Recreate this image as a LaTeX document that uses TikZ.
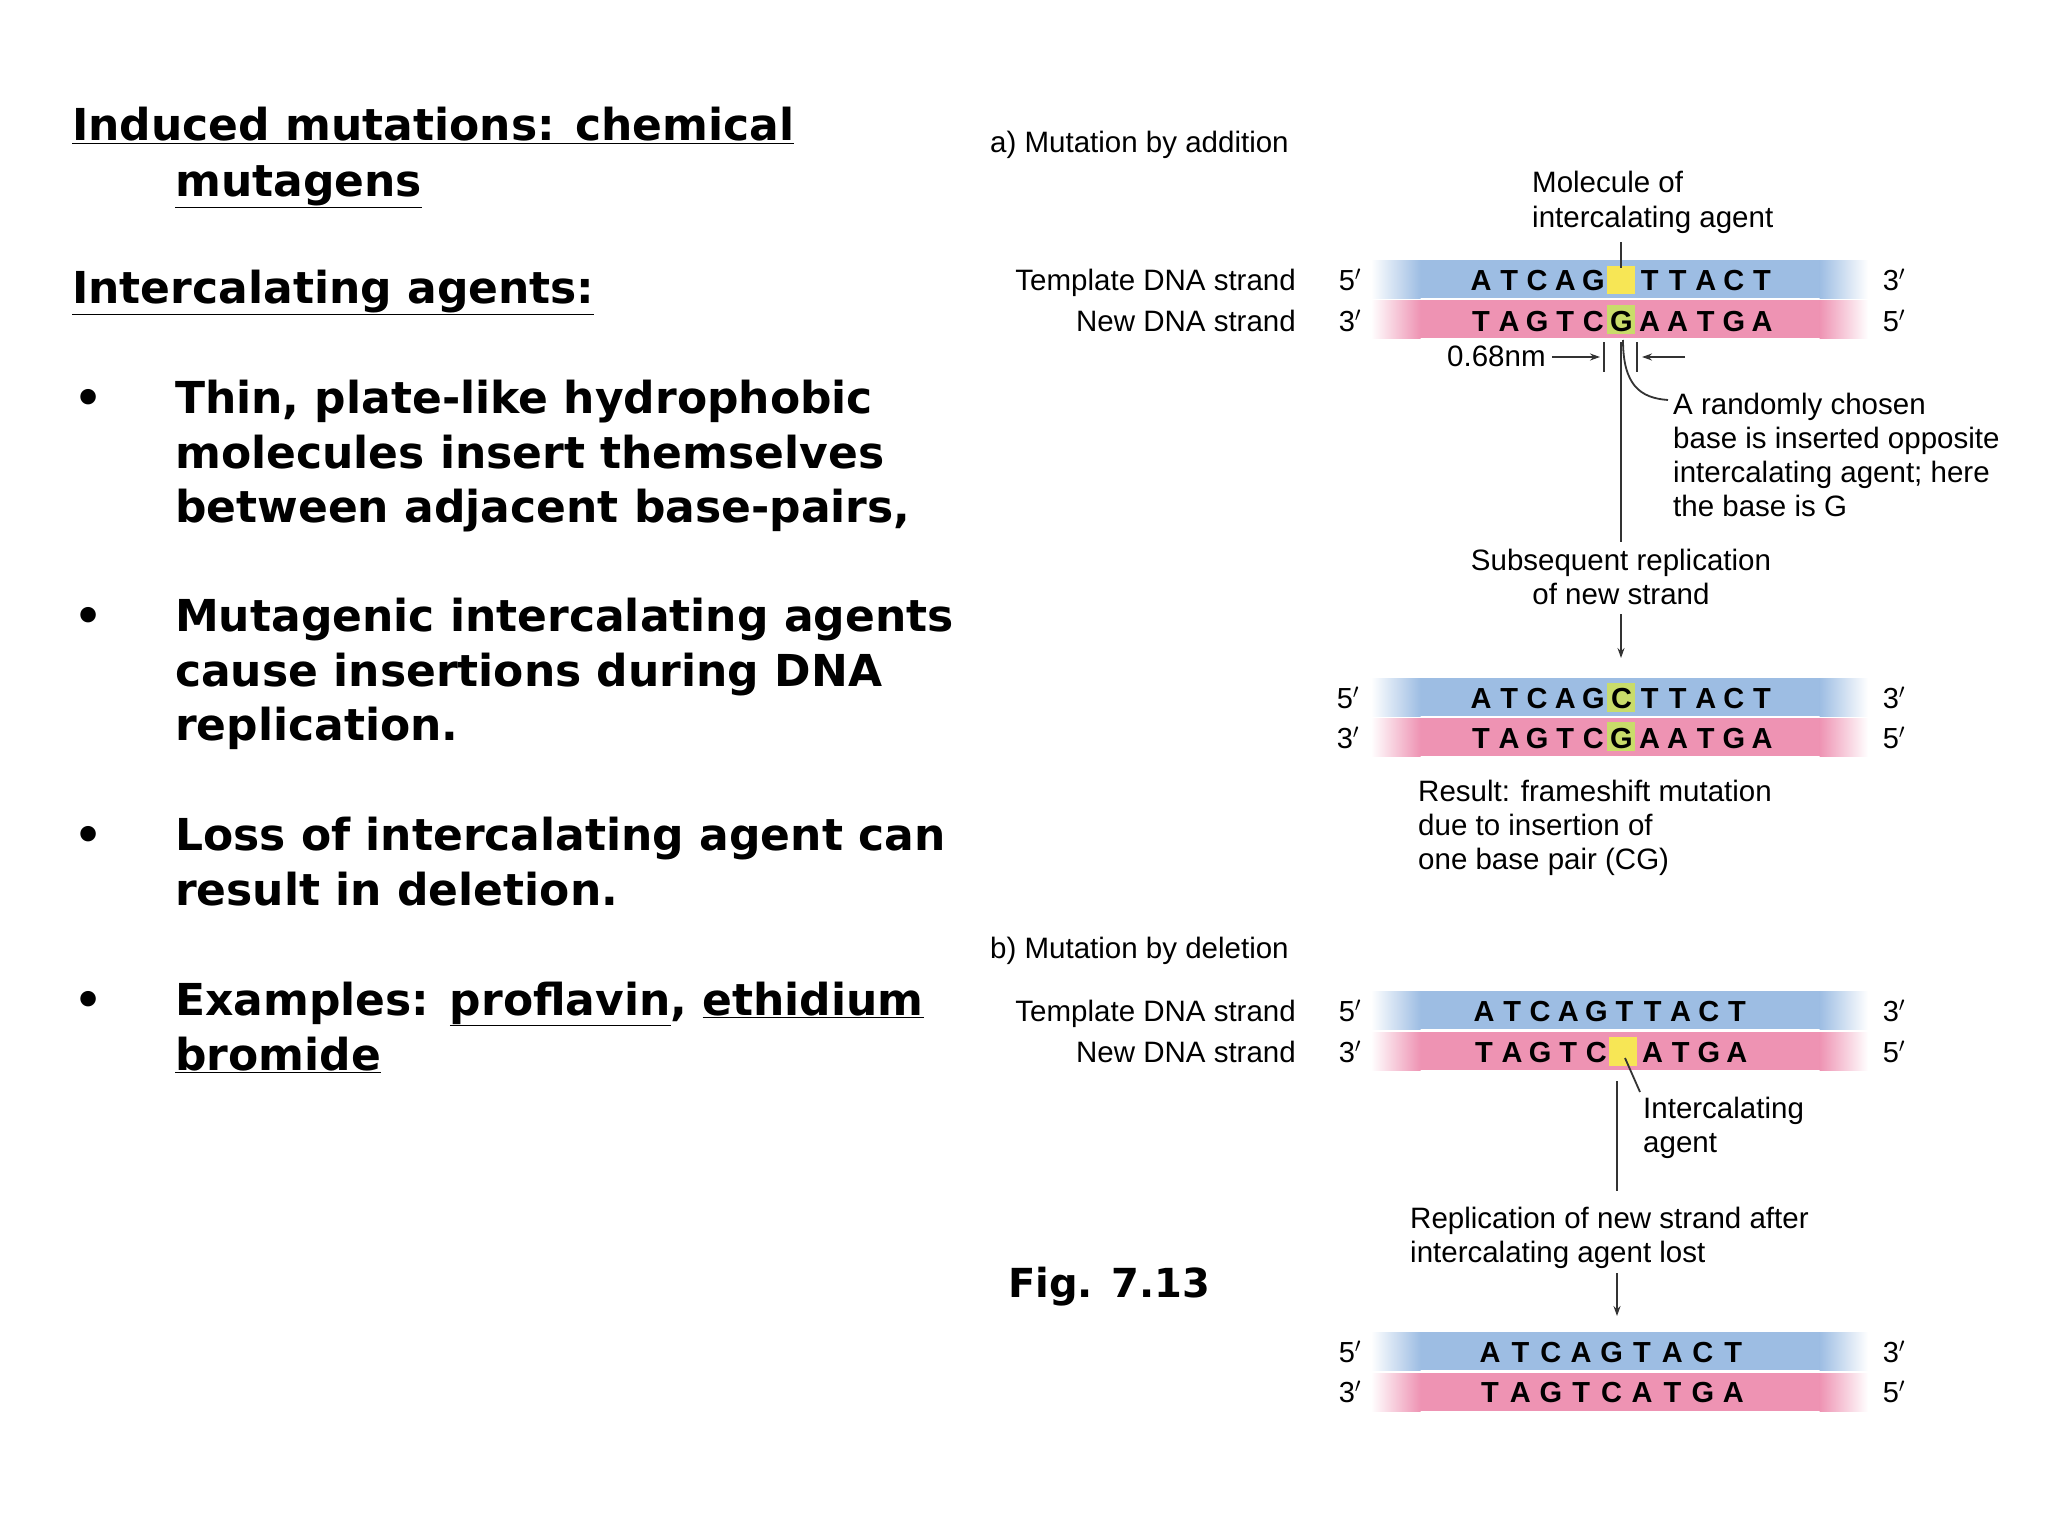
\documentclass[tikz,border=0pt]{standalone}
\usepackage{fontspec}
\setmainfont{DejaVu Sans}
\newfontfamily\hv{Liberation Sans}
\usetikzlibrary{arrows.meta}
\definecolor{sblue}{HTML}{9DBDE3}
\definecolor{sblued}{HTML}{5F88BC}
\definecolor{spink}{HTML}{EE93B3}
\definecolor{spinkd}{HTML}{E06E96}
\definecolor{yel}{HTML}{F7E655}
\definecolor{grn}{HTML}{C9DC6A}
\tikzset{
 big/.style={font=\fontsize{44}{50}\selectfont\bfseries, anchor=base west, inner sep=0},
 lab/.style={font=\hv\fontsize{29.5}{34}\selectfont, anchor=base west, inner sep=0},
 base/.style={font=\hv\fontsize{29}{32}\selectfont\bfseries, anchor=base, inner sep=0},
 prime/.style={font=\hv\fontsize{29}{32}\selectfont, anchor=base, inner sep=0},
 ln/.style={line width=1.8pt, black!80},
 arr/.style={ln, -{Stealth[length=10pt,width=7pt]}}
}
\newcommand{\strand}[4]{% y-top, y-bottom, fill, edge
  \fill[#3] (1420,#1) rectangle (1820,#2);
  \shade[left color=white, right color=#3] (1371,#1) rectangle (1420.5,#2);
  \shade[left color=#3, right color=white] (1819.5,#1) rectangle (1868,#2);
}
\begin{document}
\begin{tikzpicture}[x=1pt,y=-1pt]
\useasboundingbox (0,0) rectangle (2048,1536);
% ---------- left text
\node[big] (t1) at (72,141) {\underline{Induced mutations: chemical}};
\node[big] (t2) at (175,196) {\underline{mutagens}};
\node[big] (t3) at (72,303) {\underline{Intercalating agents:}};
\foreach \y in {413,631,850,1015} \node[big] at (74,\y) {•};
\node[big] (b1a) at (175,413) {Thin, plate-like hydrophobic};
\node[big] (b1b) at (175,468) {molecules insert themselves};
\node[big] (b1c) at (175,522) {between adjacent base-pairs,};
\node[big] (b2a) at (175,631) {Mutagenic intercalating agents};
\node[big] (b2b) at (175,686) {cause insertions during DNA};
\node[big] (b2c) at (175,740) {replication.};
\node[big] (b3a) at (175,850) {Loss of intercalating agent can};
\node[big] (b3b) at (175,905) {result in deletion.};
\node[big] (b4a) at (175,1015) {Examples: \underline{proflavin}, \underline{ethidium}};
\node[big] (b4b) at (175,1070) {\underline{bromide}};
\node[big, font=\fontsize{40}{46}\selectfont\bfseries] (fig) at (1008,1297) {Fig. 7.13};
% ---------- a) addition
\node[lab] (ha) at (990,153) {a) Mutation by addition};
\node[lab] (mol1) at (1532,193) {Molecule of};
\node[lab] (mol2) at (1532,227) {intercalating agent};
\strand{260}{298}{sblue}{sblued}
\strand{300}{338}{spink}{spinkd}
\fill[yel] (1607,266) rectangle (1635,294);
\fill[grn] (1607,305) rectangle (1635,334);
\node[lab, anchor=base east] (tpl1) at (1296,290) {Template DNA strand};
\node[lab, anchor=base east] (new1) at (1296,331) {New DNA strand};
\node[prime] at (1350,290) {5$'$}; \node[prime] at (1350,331) {3$'$};
\node[prime] at (1894,290) {3$'$}; \node[prime] at (1894,331) {5$'$};
\foreach \c [count=\i from 0] in {A,T,C,A,G,{},T,T,A,C,T} \node[base] at (1481+\i*28.1,290) {\c};
\foreach \c [count=\i from 0] in {T,A,G,T,C,G,A,A,T,G,A} \node[base] at (1481+\i*28.1,331) {\c};
\coordinate (molp) at (1621,242);
\coordinate (yp) at (1621,268);
\draw[ln] (molp) -- (yp);
\node[lab] (nm) at (1447,366) {0.68nm};
\draw[ln] (1604,342) -- (1604,372); \draw[ln] (1637,342) -- (1637,372);
\draw[arr] (nm.east |- 0,357) ++(6,0) -- (1600,357);
\draw[arr] (1685,357) -- (1642,357);
\draw[ln] (1623,340) .. controls (1623,385) and (1640,398) .. (1668,400);
\node[lab] (r1) at (1673,414) {A randomly chosen};
\node[lab] (r2) at (1673,448) {base is inserted opposite};
\node[lab] (r3) at (1673,482) {intercalating agent; here};
\node[lab] (r4) at (1673,516) {the base is G};
\coordinate (va) at (1621,342); \coordinate (vb) at (1621,542);
\draw[ln] (va) -- (vb);
\node[lab, anchor=base] (s1) at (1621,570) {Subsequent replication};
\node[lab, anchor=base] (s2) at (1621,604) {of new strand};
\coordinate (aa) at (1621,614); \coordinate (ab) at (1621,658);
\draw[arr] (aa) -- (ab);
\strand{678}{716}{sblue}{sblued}
\strand{718}{756}{spink}{spinkd}
\fill[grn] (1607,683) rectangle (1635,712);
\fill[grn] (1607,722) rectangle (1635,751);
\node[prime] at (1348,708) {5$'$}; \node[prime] at (1348,748) {3$'$};
\node[prime] at (1894,708) {3$'$}; \node[prime] at (1894,748) {5$'$};
\foreach \c [count=\i from 0] in {A,T,C,A,G,C,T,T,A,C,T} \node[base] at (1481+\i*28.1,708) {\c};
\foreach \c [count=\i from 0] in {T,A,G,T,C,G,A,A,T,G,A} \node[base] at (1481+\i*28.1,748) {\c};
\node[lab] (res1) at (1418,801) {Result: frameshift mutation};
\node[lab] (res2) at (1418,835) {due to insertion of};
\node[lab] (res3) at (1418,869) {one base pair (CG)};
% ---------- b) deletion
\node[lab] (hb) at (990,958) {b) Mutation by deletion};
\strand{991}{1029}{sblue}{sblued}
\strand{1032}{1070}{spink}{spinkd}
\fill[yel] (1609,1037) rectangle (1637,1066);
\node[lab, anchor=base east] (tpl2) at (1296,1021) {Template DNA strand};
\node[lab, anchor=base east] (new2) at (1296,1062) {New DNA strand};
\node[prime] at (1350,1021) {5$'$}; \node[prime] at (1350,1062) {3$'$};
\node[prime] at (1894,1021) {3$'$}; \node[prime] at (1894,1062) {5$'$};
\foreach \c [count=\i from 0] in {A,T,C,A,G,T,T,A,C,T} \node[base] at (1484+\i*28.1,1021) {\c};
\foreach \c [count=\i from 0] in {T,A,G,T,C,{},A,T,G,A} \node[base] at (1484+\i*28.1,1062) {\c};
\coordinate (ip) at (1625,1058); \coordinate (iq) at (1640,1092);
\draw[ln] (ip) -- (iq);
\node[lab] (ia1) at (1643,1118) {Intercalating};
\node[lab] (ia2) at (1643,1152) {agent};
\coordinate (vc) at (1617,1081); \coordinate (vd) at (1617,1191);
\draw[ln] (vc) -- (vd);
\node[lab] (rp1) at (1410,1228) {Replication of new strand after};
\node[lab] (rp2) at (1410,1262) {intercalating agent lost};
\coordinate (ac) at (1617,1273); \coordinate (ad) at (1617,1316);
\draw[arr] (ac) -- (ad);
\strand{1332}{1370}{sblue}{sblued}
\strand{1373}{1411}{spink}{spinkd}
\node[prime] at (1350,1362) {5$'$}; \node[prime] at (1350,1402) {3$'$};
\node[prime] at (1894,1362) {3$'$}; \node[prime] at (1894,1402) {5$'$};
\foreach \c [count=\i from 0] in {A,T,C,A,G,T,A,C,T} \node[base] at (1490+\i*30.4,1362) {\c};
\foreach \c [count=\i from 0] in {T,A,G,T,C,A,T,G,A} \node[base] at (1490+\i*30.4,1402) {\c};
\end{tikzpicture}
\end{document}
